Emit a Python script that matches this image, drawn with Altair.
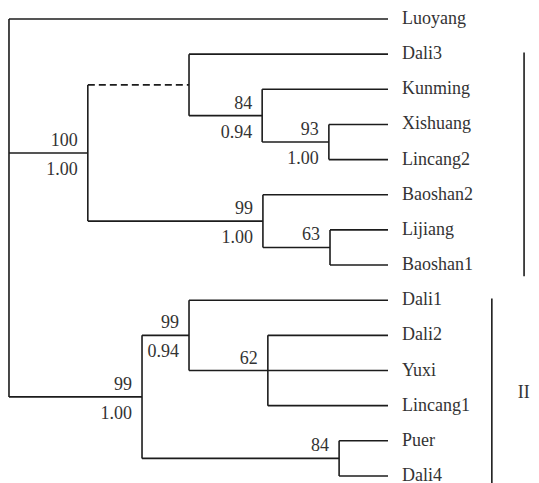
import altair as alt
import pandas as pd

leaves = ["Luoyang", "Dali3", "Kunming", "Xishuang", "Lincang2", "Baoshan2",
          "Lijiang", "Baoshan1", "Dali1", "Dali2", "Yuxi", "Lincang1", "Puer", "Dali4"]
tip_depth = 100.0

node_names = ["root", "A", "B", "C", "D", "E", "F", "G", "H", "I", "J"]
node_depth = [0.0, 20.8, 47.5, 66.8, 84.4, 67.0, 84.7, 35.1, 47.5, 68.3, 87.1]
node_children = [
    ["Luoyang", "A", "G"],
    ["B", "E"],
    ["Dali3", "C"],
    ["Kunming", "D"],
    ["Xishuang", "Lincang2"],
    ["Baoshan2", "F"],
    ["Lijiang", "Baoshan1"],
    ["H", "J"],
    ["Dali1", "I"],
    ["Dali2", "Yuxi", "Lincang1"],
    ["Puer", "Dali4"],
]
bootstrap = ["", "100", "", "84", "93", "99", "63", "99", "99", "62", "84"]
posterior = ["", "1.00", "", "0.94", "1.00", "1.00", "", "1.00", "0.94", "", ""]
dashed_edges = [("A", "B")]

groups = ["II"]
group_first = ["Dali1"]
group_last = ["Dali4"]
group_bar_depth = [127.4]
groups_hidden = ["I"]
hidden_first = ["Dali3"]
hidden_last = ["Baoshan1"]
hidden_bar_depth = [135.9]

# ---- build geometry from tree structure ----
pos = {}
for i, name in enumerate(leaves):
    pos[name] = (tip_depth, float(i))
depth_of = dict(zip(node_names, node_depth))
children_of = dict(zip(node_names, node_children))


def place(n):
    if n in pos:
        return pos[n]
    ys = [place(c)[1] for c in children_of[n]]
    pos[n] = (depth_of[n], (ys[0] + ys[-1]) / 2.0)
    return pos[n]


place("root")

segs = []
for n in node_names:
    x, y = pos[n]
    kids = children_of[n]
    segs.append(dict(x=x, x2=x, y=pos[kids[0]][1], y2=pos[kids[-1]][1], dashed=False))
    for k in kids:
        segs.append(dict(x=x, x2=pos[k][0], y=pos[k][1], y2=pos[k][1],
                         dashed=(n, k) in dashed_edges))
seg_df = pd.DataFrame(segs)

tip_df = pd.DataFrame({"x": [pos[l][0] for l in leaves],
                       "y": [pos[l][1] for l in leaves],
                       "label": leaves})
sup_df = pd.DataFrame({"x": [pos[n][0] for n in node_names],
                       "y": [pos[n][1] for n in node_names],
                       "boot": bootstrap, "post": posterior})

bar_rows = []
for g, f, l, d in zip(groups + groups_hidden, group_first + hidden_first,
                      group_last + hidden_last, group_bar_depth + hidden_bar_depth):
    y1 = leaves.index(f) - 0.05
    y2 = leaves.index(l) + 0.32
    bar_rows.append(dict(x=d, y=y1, y2=y2, ymid=(y1 + y2) / 2, label=g,
                         show=g in groups))
bar_df = pd.DataFrame(bar_rows)

xs = alt.Scale(domain=[-0.26, 137.73], nice=False, zero=False)
ys = alt.Scale(domain=[-0.313, 13.2], nice=False, zero=False, reverse=True)
X = lambda f: alt.X(f, type="quantitative", scale=xs, axis=None)
Y = lambda f: alt.Y(f, type="quantitative", scale=ys, axis=None)

LINE = "#1c1c1c"
TXT = "#333333"
FONT = "Times New Roman, Liberation Serif, serif"
FS = 18

solid = alt.Chart(seg_df).transform_filter("!datum.dashed").mark_rule(
    color=LINE, strokeWidth=1.6).encode(x=X("x"), x2="x2", y=Y("y"), y2="y2")
dashed = alt.Chart(seg_df).transform_filter("datum.dashed").mark_rule(
    color=LINE, strokeWidth=1.6, strokeDash=[7, 4]).encode(x=X("x"), x2="x2", y=Y("y"), y2="y2")

tips = alt.Chart(tip_df).mark_text(align="left", baseline="middle", dx=14,
                                   font=FONT, fontSize=FS, color=TXT).encode(
    x=X("x"), y=Y("y"), text="label")

boot = alt.Chart(sup_df).mark_text(align="right", baseline="bottom", dx=-10, dy=-3,
                                   font=FONT, fontSize=FS, color=TXT).encode(
    x=X("x"), y=Y("y"), text="boot")
post = alt.Chart(sup_df).mark_text(align="right", baseline="top", dx=-10, dy=8,
                                   font=FONT, fontSize=FS, color=TXT).encode(
    x=X("x"), y=Y("y"), text="post")

bars = alt.Chart(bar_df).mark_rule(color=LINE, strokeWidth=1.6).encode(
    x=X("x"), y=Y("y"), y2="y2")
blabels = alt.Chart(bar_df).transform_filter("datum.show").mark_text(
    align="center", baseline="middle", dx=32, font=FONT, fontSize=FS, color=TXT).encode(
    x=X("x"), y=Y("ymid"), text="label")

chart = alt.layer(solid, dashed, bars, tips, boot, post, blabels).properties(
    width=523, height=475, padding=0,
    autosize=alt.AutoSizeParams(type="none"),
).configure_view(stroke=None)

chart.save("out.html", embed_options={"renderer": "svg", "actions": False})
